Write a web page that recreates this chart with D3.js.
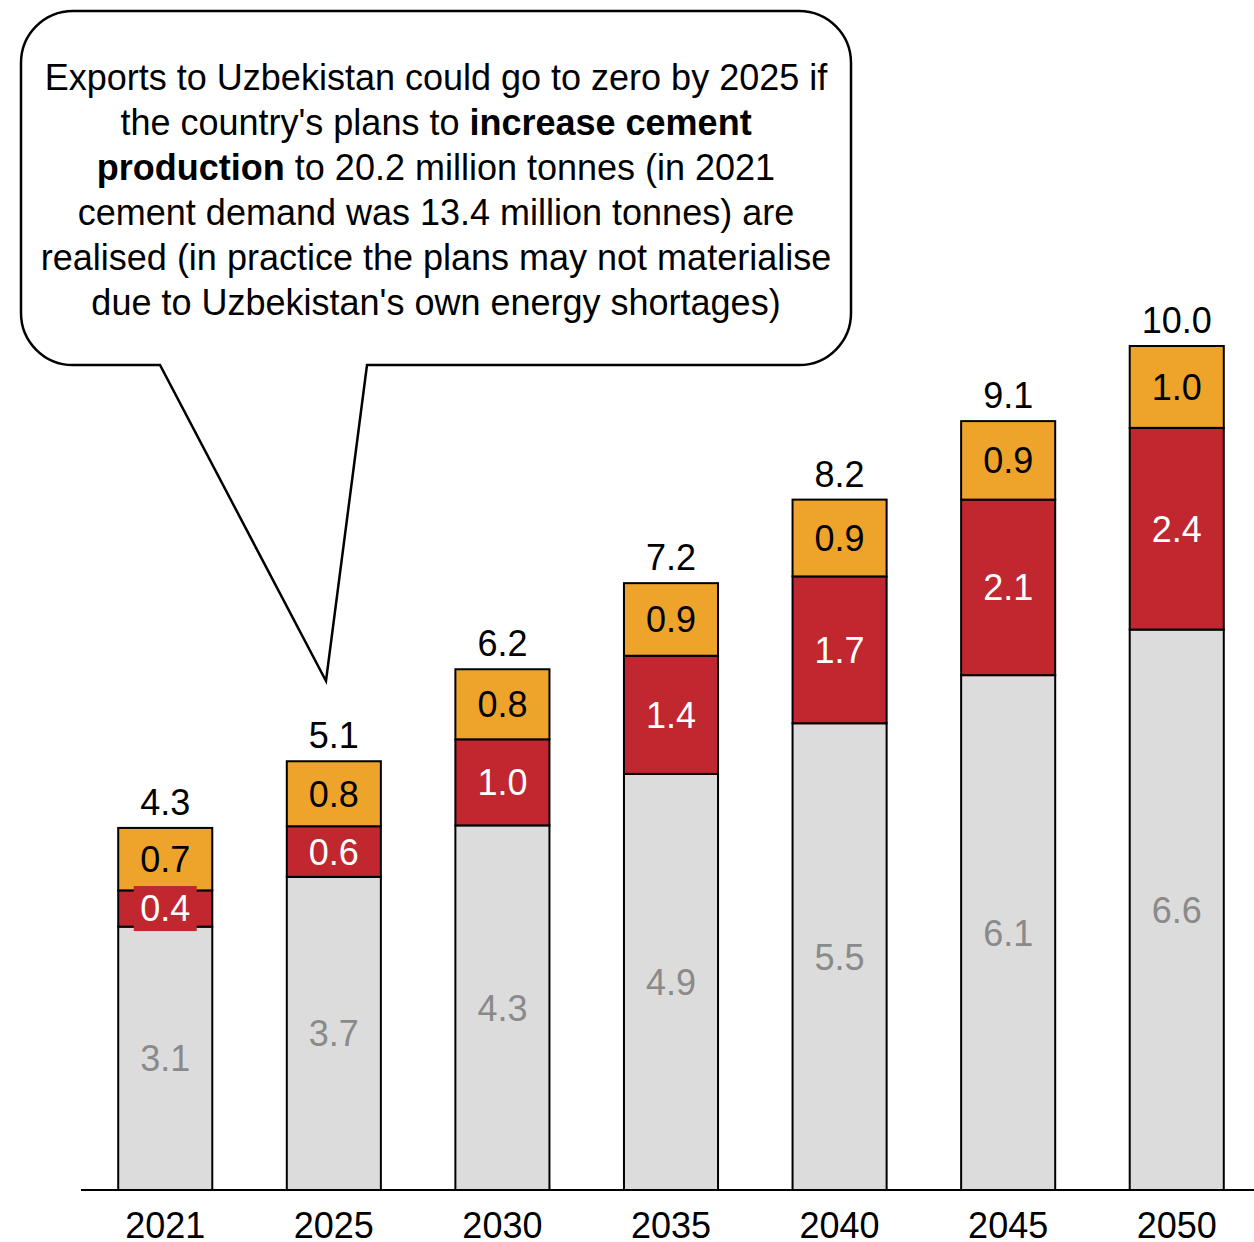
<!DOCTYPE html>
<html>
<head>
<meta charset="utf-8">
<script src="https://cdn.jsdelivr.net/npm/d3@7"></script>
<style>
  html, body { margin: 0; padding: 0; background: #fff; }
  svg { display: block; font-family: "Liberation Sans", Arial, sans-serif; }
</style>
</head>
<body>
<svg id="chart" width="1254" height="1242"></svg>
<script>
// Cement balance by year, million tonnes
const years = ["2021", "2025", "2030", "2035", "2040", "2045", "2050"];
const baseValues   = [3.12, 3.71, 4.32, 4.93, 5.53, 6.10, 6.64];
const middleValues = [0.43, 0.60, 1.02, 1.40, 1.74, 2.08, 2.39];
const topValues    = [0.74, 0.77, 0.83, 0.86, 0.91, 0.93, 0.97];

const seriesNames  = ["base", "middle", "top"];
const seriesFill   = { base: "#dcdcdc", middle: "#c0272f", top: "#eea42b" };
const seriesLabel  = { base: "#8a8a8a", middle: "#ffffff", top: "#000000" };

const calloutLines = [
  [{ t: "Exports to Uzbekistan could go to zero by 2025 if", b: false }],
  [{ t: "the country's plans to ", b: false }, { t: "increase cement", b: true }],
  [{ t: "production", b: true }, { t: " to 20.2 million tonnes (in 2021", b: false }],
  [{ t: "cement demand was 13.4 million tonnes) are", b: false }],
  [{ t: "realised (in practice the plans may not materialise", b: false }],
  [{ t: "due to Uzbekistan's own energy shortages)", b: false }]
];

const rows = years.map((y, i) => ({
  year: y, base: baseValues[i], middle: middleValues[i], top: topValues[i]
}));

const svg = d3.select("#chart");
const fontSize = 36;

const x = d3.scaleBand().domain(years).range([84.5, 1257.5])
  .paddingInner(0.442).paddingOuter(0.2);
const y = d3.scaleLinear().domain([0, 10]).range([1190, 346]);

const stacked = d3.stack().keys(seriesNames)(rows);

// Stacked segments
const layers = svg.append("g").selectAll("g")
  .data(stacked).join("g")
  .attr("fill", d => seriesFill[d.key]);

layers.selectAll("rect")
  .data(d => d.map(p => Object.assign(p, { key: d.key })))
  .join("rect")
  .attr("x", d => x(d.data.year))
  .attr("width", x.bandwidth())
  .attr("y", d => y(d[1]))
  .attr("height", d => y(d[0]) - y(d[1]))
  .attr("stroke", "#000")
  .attr("stroke-width", 2);

// Segment value labels, each on a small box in the segment colour
const segLabels = svg.append("g").selectAll("g")
  .data(stacked.flatMap(s => s))
  .join("g")
  .attr("transform", d => `translate(${x(d.data.year) + x.bandwidth() / 2},${(y(d[0]) + y(d[1])) / 2})`);

segLabels.append("rect")
  .attr("x", -31.5).attr("y", -22.5)
  .attr("width", 63).attr("height", 45)
  .attr("fill", d => seriesFill[d.key]);

segLabels.append("text")
  .attr("text-anchor", "middle")
  .attr("y", fontSize * 0.36)
  .attr("font-size", fontSize)
  .attr("fill", d => seriesLabel[d.key])
  .text(d => (d[1] - d[0]).toFixed(1));

// Totals above the bars
svg.append("g").selectAll("text")
  .data(rows).join("text")
  .attr("x", d => x(d.year) + x.bandwidth() / 2)
  .attr("y", d => y(d.base + d.middle + d.top) - 13)
  .attr("text-anchor", "middle")
  .attr("font-size", fontSize)
  .attr("fill", "#000")
  .text(d => (d.base + d.middle + d.top).toFixed(1));

// Baseline and year labels
const xAxis = svg.append("g").attr("transform", `translate(0,${y(0)})`)
  .call(d3.axisBottom(x).tickSize(0).tickPadding(0));
xAxis.select(".domain").attr("d", "M81,0H1254").attr("stroke", "#000").attr("stroke-width", 2);
xAxis.selectAll(".tick text")
  .attr("font-family", "Liberation Sans, Arial, sans-serif")
  .attr("font-size", fontSize)
  .attr("fill", "#000")
  .attr("dy", null)
  .attr("y", 48);

// Speech bubble
const bx0 = 21, bx1 = 851, by0 = 11, by1 = 365, r = 52;
const tailL = 160, tailR = 367, tipX = 326, tipY = 681;
const bubble = d3.path();
bubble.moveTo(bx0 + r, by0);
bubble.lineTo(bx1 - r, by0);
bubble.arcTo(bx1, by0, bx1, by0 + r, r);
bubble.lineTo(bx1, by1 - r);
bubble.arcTo(bx1, by1, bx1 - r, by1, r);
bubble.lineTo(tailR, by1);
bubble.lineTo(tipX, tipY);
bubble.lineTo(tailL, by1);
bubble.lineTo(bx0 + r, by1);
bubble.arcTo(bx0, by1, bx0, by1 - r, r);
bubble.lineTo(bx0, by0 + r);
bubble.arcTo(bx0, by0, bx0 + r, by0, r);
bubble.closePath();

svg.append("path")
  .attr("d", bubble.toString())
  .attr("fill", "#fff")
  .attr("stroke", "#000")
  .attr("stroke-width", 2.5)
  .attr("stroke-linejoin", "miter");

const callout = svg.append("text")
  .attr("text-anchor", "middle")
  .attr("font-size", fontSize)
  .attr("fill", "#000");

calloutLines.forEach((line, i) => {
  const t = callout.append("tspan").attr("x", 436).attr("y", 90 + i * 45);
  line.forEach(part => {
    t.append("tspan")
      .attr("font-weight", part.b ? "bold" : "normal")
      .text(part.t);
  });
});
</script>
</body>
</html>
